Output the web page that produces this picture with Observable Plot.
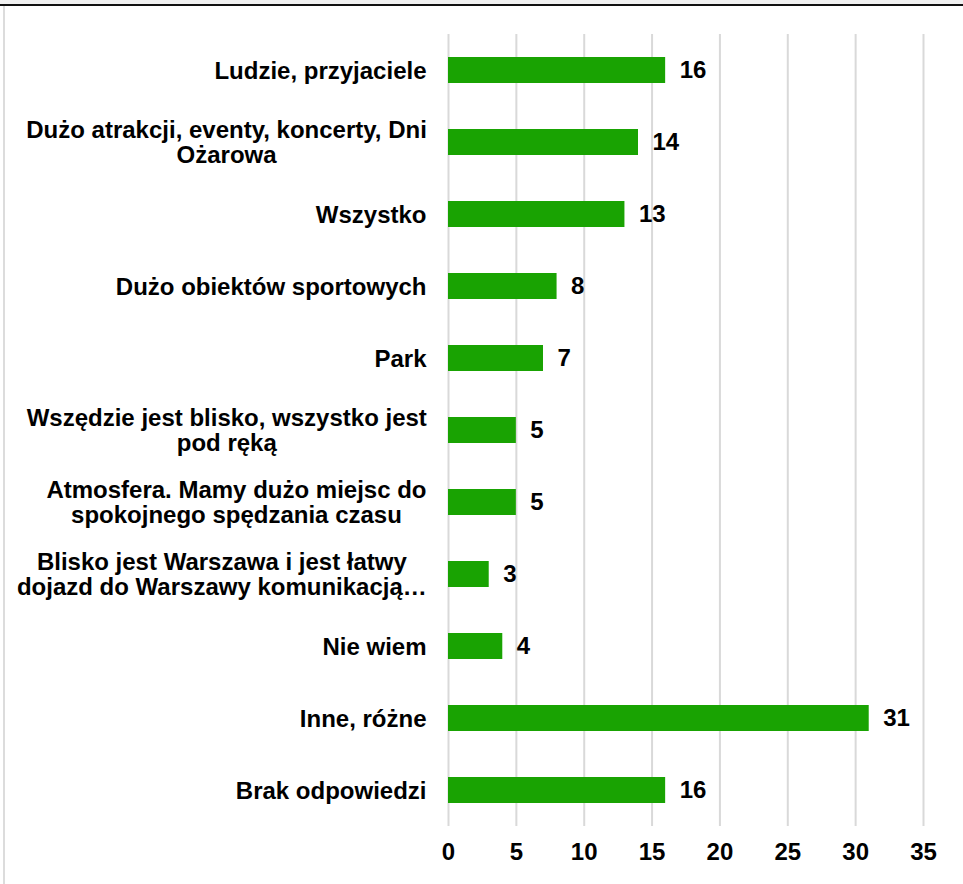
<!DOCTYPE html>
<html>
<head>
<meta charset="utf-8">
<script src="https://cdn.jsdelivr.net/npm/d3@7"></script>
<script src="https://cdn.jsdelivr.net/npm/@observablehq/plot@0.6"></script>
<style>
  html, body { margin: 0; padding: 0; background: #fff; }
  #wrap { position: relative; width: 963px; height: 884px; overflow: hidden; font-family: "Liberation Sans", Arial, sans-serif; }
  #topband { position: absolute; left: 0; top: 0; width: 963px; height: 4px; background: #f0f0f0; }
  #topline { position: absolute; left: 0; top: 4px; width: 963px; height: 2px; background: #111; }
  #leftline { position: absolute; left: 3px; top: 6px; width: 2px; height: 878px; background: #dcdcdc; }
  #chart { position: absolute; left: 0; top: 0; }
</style>
</head>
<body>
<div id="wrap">
  <div id="chart"></div>
  <div id="topband"></div>
  <div id="topline"></div>
  <div id="leftline"></div>
</div>
<script>
const categories = [
  "Ludzie, przyjaciele",
  "Dużo atrakcji, eventy, koncerty, Dni\nOżarowa",
  "Wszystko",
  "Dużo obiektów sportowych",
  "Park",
  "Wszędzie jest blisko, wszystko jest\npod ręką",
  "Atmosfera. Mamy dużo miejsc do\nspokojnego spędzania czasu",
  "Blisko jest Warszawa i jest łatwy\ndojazd do Warszawy komunikacją…",
  "Nie wiem",
  "Inne, różne",
  "Brak odpowiedzi"
];
const values = [16, 14, 13, 8, 7, 5, 5, 3, 4, 31, 16];
const xTicks = [0, 5, 10, 15, 20, 25, 30, 35];

const data = categories.map((c, i) => ({cat: c, value: values[i]}));

const FONT = 24;
const chart = Plot.plot({
  width: 963,
  height: 884,
  marginLeft: 448,
  marginRight: 40,
  marginTop: 34,
  marginBottom: 58,
  style: {fontFamily: '"Liberation Sans", Arial, sans-serif', background: "transparent", color: "#000"},
  x: {domain: [0, 35]},
  y: {domain: categories, paddingInner: 0.64, paddingOuter: 0.32, label: null},
  marks: [
    Plot.gridX({ticks: xTicks, stroke: "#d9d9d9", strokeOpacity: 1, strokeWidth: 2}),
    Plot.barX(data, {x: "value", y: "cat", fill: "#19a302", inset: 0}),
    Plot.text(data, {x: "value", y: "cat", text: d => String(d.value), textAnchor: "start", dx: 14, fontSize: FONT, fontWeight: "bold", fill: "#000"}),
    Plot.axisX({ticks: xTicks, tickSize: 0, tickPadding: 16, fontSize: FONT, fontWeight: "bold", label: null, tickFormat: d => String(d)}),
    Plot.axisY({tickSize: 0, tickPadding: 22, fontSize: FONT, fontWeight: "bold", lineHeight: 1.04, label: null, textOverflow: null})
  ]
});
document.getElementById("chart").appendChild(chart);

// center multi-line category labels within their own text block (right-aligned block)
const yLabels = chart.querySelectorAll('g[aria-label="y-axis tick label"] text');
yLabels.forEach(t => {
  if (t.querySelectorAll("tspan").length < 2) return;
  const bb = t.getBBox();
  t.setAttribute("text-anchor", "middle");
  const prev = t.getAttribute("transform") || "";
  t.setAttribute("transform", prev + ` translate(${bb.x + bb.width / 2},0)`);
});
</script>
</body>
</html>
